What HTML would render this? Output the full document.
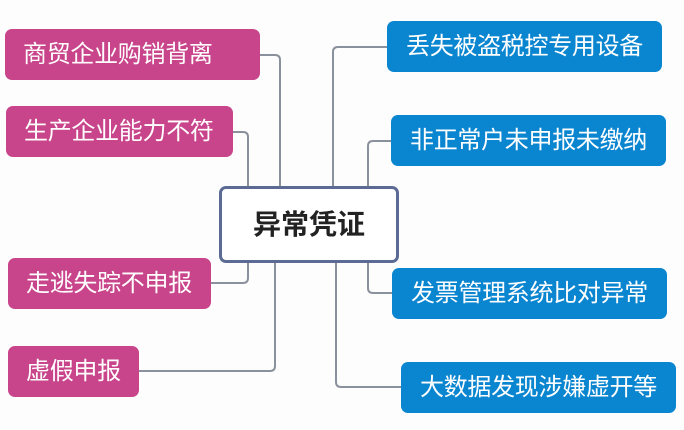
<!DOCTYPE html>
<html><head><meta charset="utf-8"><style>
body{margin:0;width:684px;height:430px;background:#fdfdfd;position:relative;overflow:hidden;font-family:"Liberation Sans","Noto Sans CJK SC",sans-serif}
.b{position:absolute;height:51px;border-radius:7px;color:#fff;font-size:24px;line-height:51px;white-space:nowrap;letter-spacing:-0.3px}
.p{background:#c9458b;padding-left:18px;box-sizing:border-box}
.q{background:#0a85d0;text-align:center}
.c{position:absolute;left:219px;top:186px;width:174px;height:71px;border:3px solid #5b6b93;border-radius:7px;background:#fff;text-align:center;line-height:71px;font-size:28px;font-weight:bold;color:#222}
svg{position:absolute;left:0;top:0}
</style></head><body>
<svg width="684" height="430" fill="none" stroke="#8a909c" stroke-width="2">
<path d="M260 55 H275 Q280 55 280 60 V186"/>
<path d="M233 132 H243 Q248 132 248 137 V186"/>
<path d="M211 283 H243 Q248 283 248 278 V262"/>
<path d="M139 371 H270 Q275 371 275 366 V262"/>
<path d="M387 47 H338 Q333 47 333 52 V186"/>
<path d="M391 141 H373 Q368 141 368 146 V186"/>
<path d="M392 293 H373 Q368 293 368 288 V262"/>
<path d="M401 387 H341 Q336 387 336 382 V262"/>
</svg>
<div class="b p" style="left:5px;top:29px;width:255px">商贸企业购销背离</div>
<div class="b p" style="left:6px;top:106px;width:227px">生产企业能力不符</div>
<div class="b p" style="left:8px;top:258px;width:203px">走逃失踪不申报</div>
<div class="b p" style="left:8px;top:346px;width:131px">虚假申报</div>
<div class="c">异常凭证</div>
<div class="b q" style="left:387px;top:21px;width:275px">丢失被盗税控专用设备</div>
<div class="b q" style="left:391px;top:115px;width:275px">非正常户未申报未缴纳</div>
<div class="b q" style="left:392px;top:268px;width:275px">发票管理系统比对异常</div>
<div class="b q" style="left:401px;top:362px;width:275px">大数据发现涉嫌虚开等</div>
</body></html>
